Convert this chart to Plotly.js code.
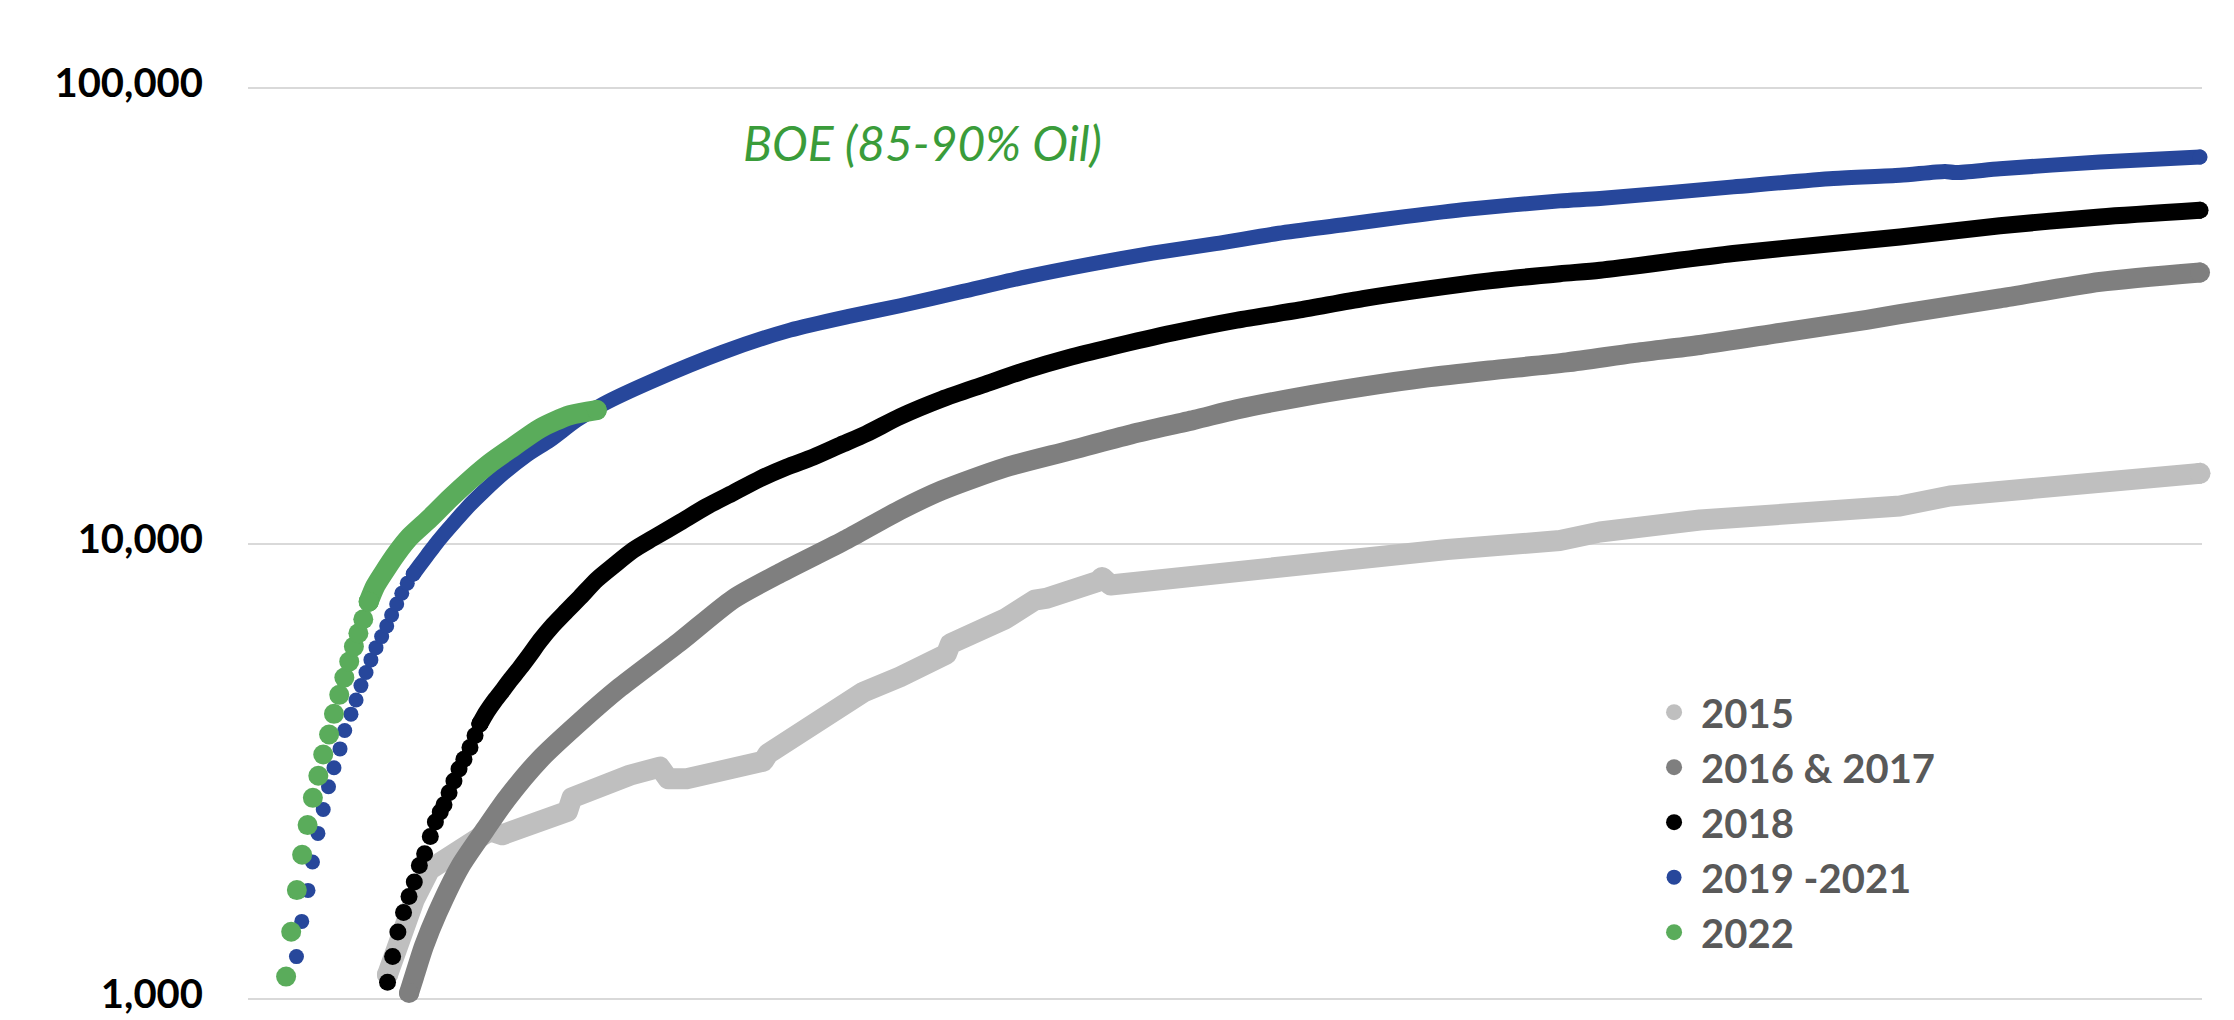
<!DOCTYPE html>
<html>
<head>
<meta charset="utf-8">
<script src="https://cdn.plot.ly/plotly-3.0.1.min.js"></script>
<style>
  html, body { margin: 0; padding: 0; background: #ffffff; }
  #chart { width: 2234px; height: 1020px; }
  /* thick series bands: rounded joins and ends */
  #chart .scatterlayer .js-line { stroke-linejoin: round !important; stroke-linecap: round !important; }
</style>
</head>
<body>
<div id="chart"></div>
<script>
// Cumulative BOE per well vs. producing days, by vintage (log scale)

// 2015 vintage
const days2015 = [71.4, 75.2, 81.2, 85.1, 92.9, 100.8, 108.5, 116.4, 123.8, 130.1, 135.8, 147.7, 163.5, 165.8, 181.1, 195.5, 210.8, 215.0, 224.5, 238.1, 255.2, 263.7, 266.1, 280.8, 297.9, 314.9, 333.7, 357.4, 359.5, 376.8, 387.5, 402.6, 409.1, 434.9, 437.1, 441.4, 467.2, 484.4, 497.4, 531.8, 549.1, 570.6, 613.7, 671.4, 691.9, 743.1, 799.4, 828.4, 845.4, 871.0, 883.8, 887.9, 947.8, 999];
const boe2015 = [1129, 1262, 1441, 1649, 1920, 2020, 2160, 2272, 2338, 2291, 2343, 2413, 2578, 2762, 2950, 3098, 3225, 3041, 3041, 3161, 3290, 3323, 3451, 3821, 4266, 4714, 5093, 5715, 6023, 6415, 6831, 7508, 7588, 8252, 8425, 8107, 8337, 8425, 8693, 8970, 9162, 9454, 9700, 10150, 10600, 11260, 11730, 12030, 12090, 12720, 12850, 13110, 13790, 14260];

// 2016 & 2017 vintages
const days2016 = [82.4, 85.1, 90.0, 96.9, 108.6, 121.3, 132.4, 149.4, 169.9, 190.4, 221.1, 248.4, 272.3, 306.4, 333.7, 355.2, 387.5, 419.9, 452.2, 484.4, 506.0, 538.3, 570.6, 602.9, 635.2, 674.9, 709.0, 743.1, 785.7, 828.4, 845.4, 896.6, 947.8, 999];
const boe2016 = [1029, 1119, 1302, 1542, 1952, 2350, 2748, 3357, 4056, 4830, 6087, 7554, 8606, 10210, 11840, 13090, 14690, 15980, 17380, 18700, 19710, 20980, 22120, 23150, 24000, 25000, 26200, 27300, 29100, 31000, 31900, 34550, 37570, 39400];

// 2018 vintage: separate early samples, then the continuous curve
const days2018Dots = [71.4, 74.0, 76.7, 79.6, 82.4, 85.1, 87.7, 90.4, 93.3, 95.9, 98.4, 100.3, 102.9, 105.4, 108.0, 110.5, 113.6, 116.2, 118.7];
const boe2018Dots = [1086, 1238, 1401, 1547, 1677, 1804, 1962, 2081, 2272, 2443, 2570, 2668, 2834, 3008, 3194, 3357, 3564, 3784, 4017];
const days2018 = [118.7, 122.2, 126.4, 130.7, 134.1, 139.2, 144.3, 149.4, 156.2, 163.1, 169.9, 178.5, 187.0, 197.2, 207.4, 221.1, 234.7, 248.4, 262.0, 275.7, 289.3, 303.0, 316.6, 333.7, 355.2, 376.8, 398.3, 419.9, 441.4, 473.7, 506.0, 538.3, 570.6, 602.9, 635.2, 671.4, 691.9, 760.1, 811.3, 845.4, 896.6, 947.8, 999];
const boe2018 = [4017, 4266, 4529, 4781, 5003, 5329, 5700, 6112, 6623, 7110, 7616, 8331, 8933, 9676, 10280, 11130, 12060, 12930, 13870, 14720, 15480, 16440, 17440, 19000, 20760, 22360, 24050, 25600, 26990, 29040, 30940, 32590, 34510, 36210, 37760, 39160, 39850, 43360, 45610, 47150, 49900, 52180, 53980];

// 2019 - 2021 vintages
const days2019Dots = [24.8, 27.5, 30.7, 33.0, 35.8, 38.5, 41.2, 44.0, 47.1, 49.5, 52.7, 55.3, 57.8, 60.4, 62.9, 65.5, 68.4, 71.0, 73.5, 76.1, 78.7, 81.5, 84.6];
const boe2019Dots = [1237, 1478, 1729, 1996, 2307, 2604, 2920, 3215, 3538, 3882, 4217, 4532, 4873, 5205, 5549, 5905, 6243, 6590, 6966, 7366, 7776, 8176, 8570];
const days2019 = [84.6, 88.0, 91.5, 95.7, 99.9, 105.1, 111.9, 120.4, 130.7, 142.6, 154.6, 168.2, 181.8, 205.7, 243.1, 277.4, 308.1, 333.7, 366.0, 398.3, 430.6, 462.9, 495.2, 527.5, 559.8, 592.1, 624.5, 671.4, 691.9, 760.1, 811.3, 845.4, 868.5, 873.6, 896.6, 947.8, 999];
const boe2019 = [8570, 8970, 9389, 9924, 10440, 11075, 11950, 12990, 14260, 15640, 16880, 18670, 20250, 22630, 26330, 29430, 31590, 33290, 35820, 38540, 41060, 43450, 45580, 48050, 50110, 52260, 54280, 56600, 57260, 60750, 63390, 64420, 65700, 65300, 66580, 68900, 70660];

// 2022 vintage
const days2022Dots = [19.5, 22.1, 25.0, 27.7, 30.5, 33.2, 36.0, 38.5, 41.5, 44.0, 46.7, 49.3, 51.8, 54.2, 56.5, 59.0, 61.8];
const boe2022Dots = [1118, 1403, 1732, 2071, 2406, 2762, 3088, 3439, 3804, 4224, 4650, 5075, 5502, 5935, 6350, 6817, 7451];
const days2022 = [61.8, 65.0, 69.2, 76.1, 82.9, 93.1, 103.4, 113.6, 123.8, 135.8, 149.4, 164.8, 178.5];
const boe2022 = [7451, 8040, 8600, 9520, 10350, 11360, 12570, 13790, 15010, 16320, 17900, 19150, 19640];

// y-axis ticks
const yTickVals = [1000, 10000, 100000];
const yTickText = ['1,000', '10,000', '100,000'];

const series = [
  { name: '2015',        color: '#bfbfbf', size: 21, shape: 'linear', dotsX: [],           dotsY: [],          x: days2015, y: boe2015 },
  { name: '2016 & 2017', color: '#7f7f7f', size: 20, shape: 'spline', dotsX: [],           dotsY: [],          x: days2016, y: boe2016 },
  { name: '2018',        color: '#000000', size: 17, shape: 'spline', dotsX: days2018Dots, dotsY: boe2018Dots, x: days2018, y: boe2018 },
  { name: '2019 -2021',  color: '#27479b', size: 15, shape: 'spline', dotsX: days2019Dots, dotsY: boe2019Dots, x: days2019, y: boe2019 },
  { name: '2022',        color: '#5aac5b', size: 20, shape: 'spline', dotsX: days2022Dots, dotsY: boe2022Dots, x: days2022, y: boe2022 }
];

const traces = [];
series.forEach(s => {
  // dense part of the record reads as a solid band
  traces.push({
    type: 'scatter', mode: 'lines', x: s.x, y: s.y,
    line: { color: s.color, width: s.size, shape: s.shape, smoothing: 0.7 },
    showlegend: false, hoverinfo: 'skip', cliponaxis: false
  });
  // early samples stand apart as round markers; the curve ends get one too
  const n = s.x.length;
  traces.push({
    type: 'scatter', mode: 'markers', name: s.name,
    x: s.dotsX.concat([s.x[0], s.x[n - 1]]),
    y: s.dotsY.concat([s.y[0], s.y[n - 1]]),
    marker: { color: s.color, size: s.size, line: { width: 0 } },
    cliponaxis: false
  });
});

const FONT = 'Lato, "Open Sans", "DejaVu Sans", sans-serif';

const layout = {
  width: 2234, height: 1020,
  paper_bgcolor: '#ffffff', plot_bgcolor: '#ffffff',
  margin: { l: 248, r: 32, t: 87, b: 20, pad: 0 },
  showlegend: true,
  legend: {
    x: 0.716, xanchor: 'left', y: 0.1948, yanchor: 'middle',
    bgcolor: 'rgba(0,0,0,0)', borderwidth: 0,
    font: { family: FONT, size: 40, weight: 700, color: '#595959' },
    itemsizing: 'trace', itemwidth: 44, traceorder: 'normal'
  },
  xaxis: {
    range: [0, 1000], visible: false, showgrid: false, zeroline: false, fixedrange: true
  },
  yaxis: {
    type: 'log', range: [2.997, 5.003],
    tickvals: yTickVals, ticktext: yTickText,
    showgrid: true, gridcolor: '#d9d9d9', gridwidth: 2,
    zeroline: false, showline: false, ticks: '',
    ticklabelstandoff: 44, ticklabeloverflow: 'allow', ticklabelshift: -5,
    tickfont: { family: FONT, size: 40, weight: 700, color: '#000000' },
    fixedrange: true
  },
  annotations: [{
    xref: 'paper', yref: 'paper', x: 0.3454, y: 0.9396,
    xanchor: 'center', yanchor: 'middle', showarrow: false,
    text: 'BOE (85-90% Oil)',
    font: { family: FONT, size: 48, style: 'italic', color: '#3a9c3a' }
  }]
};

Plotly.newPlot('chart', traces, layout, { displayModeBar: false, staticPlot: true });
</script>
</body>
</html>
